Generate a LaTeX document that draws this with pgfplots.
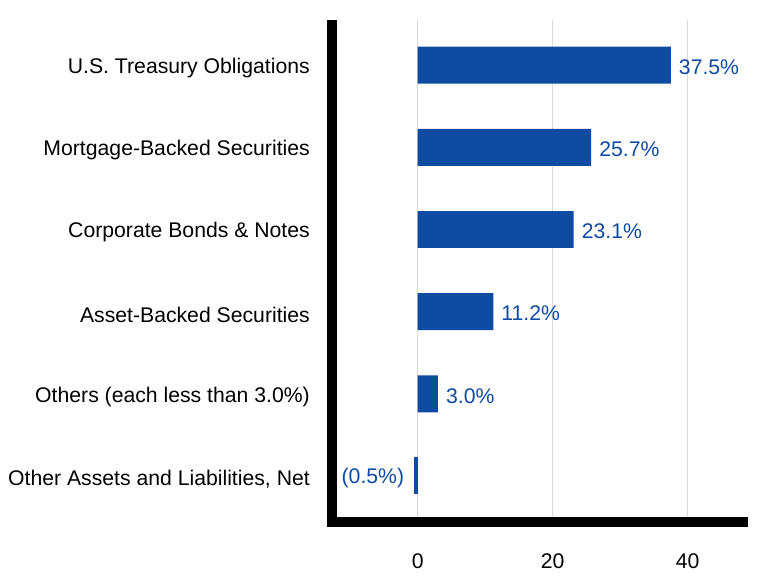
\documentclass[border=0pt]{standalone}
\usepackage{pgfplots}
\pgfplotsset{compat=1.18}
\usepackage{fontspec}
\setmainfont{Liberation Sans}
\definecolor{barblue}{HTML}{0F4AA3}
\definecolor{gridgray}{HTML}{D9D9D9}
\begin{document}
\begin{tikzpicture}
\useasboundingbox (0,0) rectangle (780pt,588pt);
\begin{axis}[
 at={(332pt,66pt)}, anchor=south west,
 scale only axis, width=415.7pt, height=502pt,
 xmin=-12.7, xmax=48.9, ymin=-0.56, ymax=5.55,
 xbar, bar width=0.45, bar shift=0pt,
 axis lines=left, axis line style={draw=none},
 xtick={0,20,40}, ytick={0,1,2,3,4,5},
 yticklabels={{Other Assets and Liabilities, Net},{Others (each less than 3.0\%)},{Asset-Backed Securities},{Corporate Bonds \& Notes},{Mortgage-Backed Securities},{U.S. Treasury Obligations}},
 major tick length=0pt,
 xmajorgrids, major grid style={gridgray, line width=1.5pt},
 tick label style={font=\fontsize{21.2}{25}\selectfont, text=black},
 xticklabel style={anchor=center, inner sep=0pt, yshift=-39pt},
 yticklabel style={anchor=east, inner sep=0pt, xshift=-22pt, yshift=-3pt},
 /pgf/number format/assume math mode=true,
 point meta=explicit symbolic,
 nodes near coords,
 every node near coord/.append style={font=\fontsize{21.2}{25}\selectfont, text=barblue, inner sep=0pt},
 clip=false,
]
\addplot[fill=barblue, draw=none, nodes near coords style={anchor=west, xshift=8pt, yshift=-2pt}] coordinates {
 (37.5,5) [{37.5\%}]
 (25.7,4) [{25.7\%}]
 (23.1,3) [{23.1\%}]
 (11.2,2) [{11.2\%}]
 (3.0,1) [{3.0\%}]
};
\addplot[fill=barblue, draw=none, nodes near coords style={anchor=east, xshift=-10pt, yshift=-2pt}] coordinates {
 (-0.5,0) [{(0.5\%)}]
};
\draw[line width=9.7pt, black] (rel axis cs:0,1) -- (rel axis cs:0,0) -- (rel axis cs:1,0);
\end{axis}
\end{tikzpicture}
\end{document}
